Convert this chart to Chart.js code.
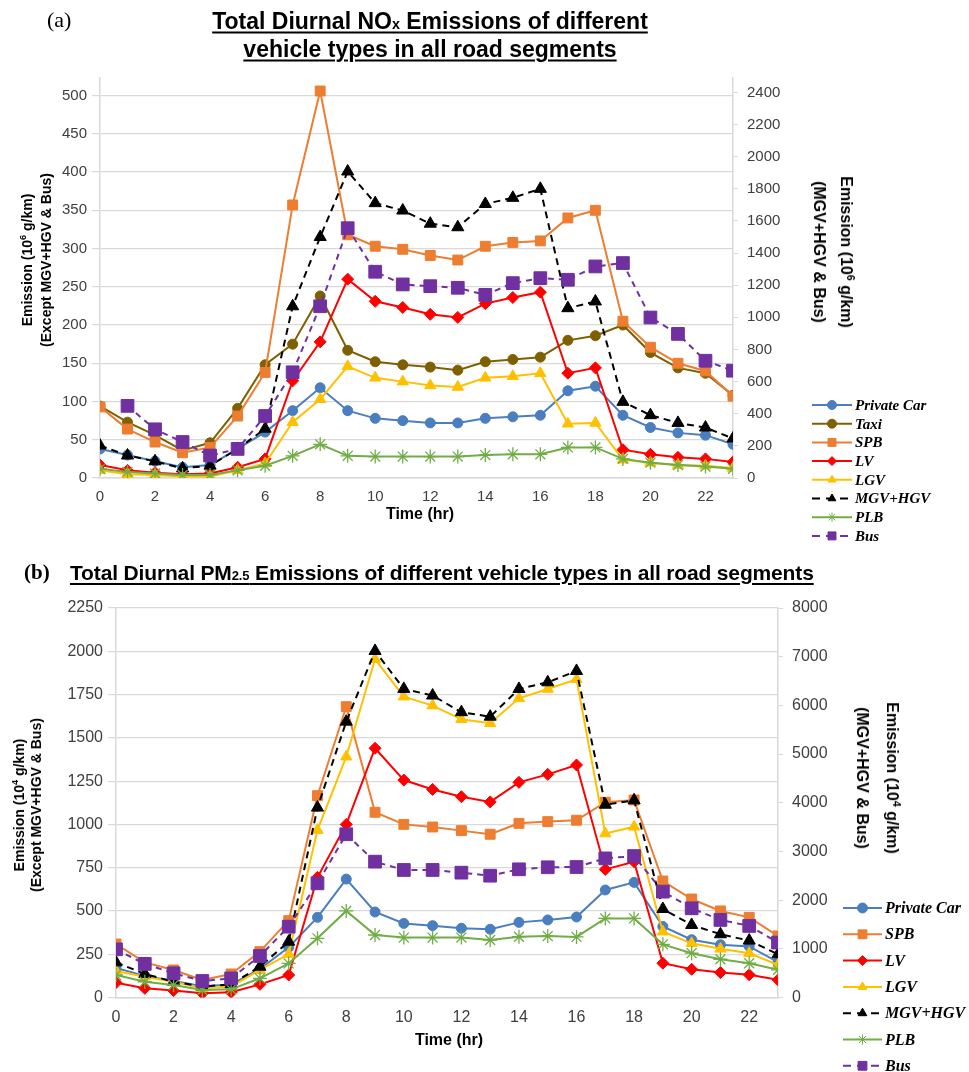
<!DOCTYPE html>
<html>
<head>
<meta charset="utf-8">
<script src="https://cdn.jsdelivr.net/npm/chart.js@4.4.1/dist/chart.umd.min.js"></script>
<style>
  html, body { margin:0; padding:0; background:#fff; }
  body { width:969px; height:1072px; overflow:hidden; position:relative; font-family:"Liberation Sans", Arial, sans-serif; color:#000; }
  canvas { position:absolute; left:0; }
  .t { position:absolute; white-space:nowrap; }
  .c { transform:translate(-50%,-50%); text-align:center; }
  .rl { transform:translate(-50%,-50%) rotate(-90deg); text-align:center; font-weight:bold; }
  .rr { transform:translate(-50%,-50%) rotate(90deg); text-align:center; font-weight:bold; }
  .ttl { font-weight:bold; text-decoration:underline; text-decoration-thickness:2px; text-underline-offset:3px; }
  sup { font-size:65%; line-height:0; vertical-align:super; }
  .sub { font-size:62%; }
</style>
</head>
<body>
<canvas id="c1" width="969" height="550" style="top:0"></canvas>
<canvas id="c2" width="969" height="522" style="top:550px"></canvas>

<!-- Panel (a) texts -->
<div class="t" style="left:47px;top:7px;font:22px 'Liberation Serif',serif;">(a)</div>
<div class="t c ttl" style="left:430px;top:35px;font-size:23px;line-height:25px;">Total Diurnal NO<span class="sub">x</span> Emissions of different<br>vehicle types in all road segments</div>
<div class="t rl" style="left:37px;top:260px;font-size:14px;line-height:19px;">Emission (10<sup>6</sup> g/km)<br>(Except MGV+HGV &amp; Bus)</div>
<div class="t rr" style="left:833px;top:252px;font-size:16px;line-height:27px;">Emission (10<sup>6</sup> g/km)<br>(MGV+HGV &amp; Bus)</div>
<div class="t c" style="left:420px;top:514px;font-size:16px;font-weight:bold;">Time (hr)</div>

<!-- Panel (b) texts -->
<div class="t" style="left:24px;top:560px;font:bold 21px 'Liberation Serif',serif;">(b)</div>
<div class="t ttl" style="left:70px;top:560px;font-size:21px;line-height:25px;letter-spacing:-0.15px;">Total Diurnal PM<span class="sub">2.5</span> Emissions of different vehicle types in all road segments</div>
<div class="t rl" style="left:28px;top:805px;font-size:14px;line-height:17px;">Emission (10<sup>4</sup> g/km)<br>(Except MGV+HGV &amp; Bus)</div>
<div class="t rr" style="left:877px;top:778px;font-size:16px;line-height:30px;">Emission (10<sup>4</sup> g/km)<br>(MGV+HGV &amp; Bus)</div>
<div class="t c" style="left:449px;top:1040px;font-size:16px;font-weight:bold;">Time (hr)</div>

<script>
// ---------------- DATA ----------------
const hours = [0,1,2,3,4,5,6,7,8,9,10,11,12,13,14,15,16,17,18,19,20,21,22,23];
const xTickValues = [0,2,4,6,8,10,12,14,16,18,20,22];

// Panel (a): NOx (10^6 g/km)
const noxLeftTicks  = [0,50,100,150,200,250,300,350,400,450,500];
const noxRightTicks = [0,200,400,600,800,1000,1200,1400,1600,1800,2000,2200,2400];
const noxPrivateCar = [38,30,22,14,17,38,60,88,118,88,78,75,72,72,78,80,82,114,120,82,66,59,56,44];
const noxTaxi       = [94,73,56,36,46,91,148,175,238,167,152,148,145,141,152,155,158,180,186,200,164,144,137,108];
const noxSPB        = [93,64,47,33,40,81,138,357,506,318,303,299,291,285,303,308,310,340,350,205,171,150,140,107];
const noxLV         = [17,10,7,5,6,14,25,127,178,260,231,223,214,210,228,236,243,137,144,37,31,27,25,21];
const noxLGV        = [10,5,4,2,2,10,19,73,103,146,131,126,121,119,131,133,137,71,72,24,20,17,16,13];
const noxMGVHGV     = [202,140,104,60,77,181,307,1069,1500,1908,1711,1665,1583,1561,1706,1744,1800,1057,1099,474,391,343,314,246];
const noxPLB        = [12,8,6,4,4,10,16,29,44,29,28,28,28,28,30,31,31,40,40,25,20,17,15,12];
const noxBus        = [null,449,303,224,140,181,386,658,1069,1555,1284,1205,1194,1184,1140,1213,1244,1234,1317,1338,999,897,730,668];

// Panel (b): PM2.5 (10^4 g/km)
const pmLeftTicks  = [0,250,500,750,1000,1250,1500,1750,2000,2250];
const pmRightTicks = [0,1000,2000,3000,4000,5000,6000,7000,8000];
const pmPrivateCar = [170,125,95,65,75,165,290,463,684,494,428,415,400,394,434,448,465,621,665,410,334,305,295,205];
const pmSPB        = [309,203,159,101,136,265,444,1166,1680,1070,1000,985,964,943,1006,1016,1024,1128,1141,673,569,500,463,356];
const pmLV         = [86,53,40,24,30,76,130,694,1000,1440,1256,1202,1160,1130,1243,1289,1343,740,784,198,163,144,131,102];
const pmLGV        = [153,120,91,53,63,159,251,967,1391,1955,1738,1686,1607,1584,1728,1782,1838,947,986,380,313,281,256,188];
const pmMGVHGV     = [722,484,325,223,271,633,1147,3900,5666,7118,6338,6202,5860,5768,6337,6474,6707,3960,4050,1818,1490,1299,1169,889];
const pmPLB        = [130,91,72,43,47,111,197,342,500,361,346,346,346,332,351,355,350,457,457,307,256,221,198,160];
const pmBus        = [990,689,497,339,393,853,1455,2345,3353,2790,2619,2619,2564,2502,2633,2675,2680,2857,2905,2174,1832,1593,1470,1128];

// ---------------- STYLES ----------------
const styles = {
  'Private Car': { color:'#4a7ebf', point:'circle',   r:5,   dash:[] },
  'Taxi':        { color:'#7f6000', point:'circle',   r:5,   dash:[] },
  'SPB':         { color:'#ed7d31', point:'rect',     r:7,   dash:[] },
  'LV':          { color:'#ff0000', point:'rectRot',  r:6,   dash:[] },
  'LGV':         { color:'#ffc000', point:'triangle', r:6.5, dash:[] },
  'MGV+HGV':     { color:'#000000', point:'triangle', r:7,   dash:[7,5] },
  'PLB':         { color:'#70ad47', point:'star',     r:7,   dash:[] },
  'Bus':         { color:'#7030a0', point:'rect',     r:9,   dash:[6,5] }
};

function makeDataset(label, values, axis, idx, total) {
  const s = styles[label];
  return {
    label: label,
    data: values.map((v, i) => ({ x: hours[i], y: v })),
    yAxisID: axis,
    borderColor: s.color,
    backgroundColor: s.color,
    pointBackgroundColor: s.color,
    pointBorderColor: s.color,
    pointStyle: s.point,
    pointRadius: s.r,
    pointBorderWidth: s.point === 'star' ? 1.3 : 1,
    borderWidth: 2,
    borderDash: s.dash,
    tension: 0,
    spanGaps: false,
    order: total - idx
  };
}

const sideLegend = {
  id: 'sideLegend',
  afterDraw(chart, args, o) {
    const ctx = chart.ctx;
    ctx.save();
    chart.data.datasets.forEach((ds, i) => {
      const y = o.y + i * o.step;
      ctx.lineWidth = 2;
      ctx.strokeStyle = ds.borderColor;
      ctx.setLineDash(ds.borderDash && ds.borderDash.length ? o.dash : []);
      ctx.beginPath();
      ctx.moveTo(o.x, y);
      ctx.lineTo(o.x + o.len, y);
      ctx.stroke();
      ctx.setLineDash([]);
      ctx.fillStyle = ds.pointBackgroundColor;
      ctx.strokeStyle = ds.pointBorderColor;
      ctx.lineWidth = 1;
      const mr = ds.pointStyle === 'rect' ? o.r * 1.25 : o.r;
      if (Chart.helpers && Chart.helpers.drawPoint) {
        Chart.helpers.drawPoint(ctx, { pointStyle: ds.pointStyle, radius: mr, rotation: 0, borderWidth: 1 }, o.x + o.len / 2, y);
      } else {
        ctx.beginPath(); ctx.arc(o.x + o.len / 2, y, mr, 0, Math.PI * 2); ctx.fill();
      }
      ctx.fillStyle = '#000';
      ctx.font = o.font;
      ctx.textBaseline = 'middle';
      ctx.textAlign = 'left';
      ctx.fillText(ds.label, o.x + o.len + 3, y + 1);
    });
    ctx.restore();
  }
};

function ticksFrom(arr) { return scale => { scale.ticks = arr.map(v => ({ value: v })); }; }
const plain = v => String(v);

function buildChart(canvasId, datasets, cfg) {
  return new Chart(document.getElementById(canvasId), {
    type: 'line',
    data: { datasets: datasets },
    plugins: [sideLegend],
    options: {
      responsive: false,
      animation: false,
      events: [],
      layout: { padding: cfg.padding },
      plugins: {
        legend: { display: false },
        title: { display: false },
        tooltip: { enabled: false },
        sideLegend: cfg.legend
      },
      scales: {
        x: {
          type: 'linear', min: 0, max: 23,
          afterBuildTicks: ticksFrom(xTickValues),
          ticks: { color: '#404040', font: { family: 'Liberation Sans', size: cfg.fontSize }, padding: 10, maxRotation: 0, autoSkip: false, callback: plain },
          grid: { display: true, drawOnChartArea: false, drawTicks: false },
          border: { display: true, color: '#d9d9d9', width: 1.5 },
          afterFit: s => { s.height = 30; }
        },
        y: {
          position: 'left', min: 0, max: cfg.leftMax,
          afterBuildTicks: ticksFrom(cfg.leftTicks),
          ticks: { color: '#404040', font: { family: 'Liberation Sans', size: cfg.fontSize }, padding: 5, callback: plain },
          grid: { color: '#d9d9d9', lineWidth: 1.2, tickLength: 8 },
          border: { display: true, color: '#d9d9d9', width: 1.5 },
          afterFit: s => { s.width = cfg.leftWidth; }
        },
        y1: {
          position: 'right', min: 0, max: cfg.rightMax,
          afterBuildTicks: ticksFrom(cfg.rightTicks),
          ticks: { color: '#404040', font: { family: 'Liberation Sans', size: cfg.fontSize }, padding: 9, callback: plain },
          grid: { drawOnChartArea: false, color: '#d9d9d9', tickLength: 5 },
          border: { display: true, color: '#d9d9d9', width: 1.5 },
          afterFit: s => { s.width = 60; }
        }
      }
    }
  });
}

// Panel (a)
const setA = [
  ['Private Car', noxPrivateCar, 'y'],
  ['Taxi', noxTaxi, 'y'],
  ['SPB', noxSPB, 'y'],
  ['LV', noxLV, 'y'],
  ['LGV', noxLGV, 'y'],
  ['MGV+HGV', noxMGVHGV, 'y1'],
  ['PLB', noxPLB, 'y'],
  ['Bus', noxBus, 'y1']
];
buildChart('c1', setA.map((d, i) => makeDataset(d[0], d[1], d[2], i, setA.length)), {
  padding: { top: 78, bottom: 42, left: 0, right: 176 },
  leftMax: 523, rightMax: 2490,
  leftTicks: noxLeftTicks, rightTicks: noxRightTicks,
  leftWidth: 100, fontSize: 15,
  legend: { x: 812, y: 405, step: 18.7, len: 40, r: 4.5, dash: [8, 6], font: 'italic bold 15px "Liberation Serif"' }
});

// Panel (b)
const setB = [
  ['Private Car', pmPrivateCar, 'y'],
  ['SPB', pmSPB, 'y'],
  ['LV', pmLV, 'y'],
  ['LGV', pmLGV, 'y'],
  ['MGV+HGV', pmMGVHGV, 'y1'],
  ['PLB', pmPLB, 'y'],
  ['Bus', pmBus, 'y1']
];
buildChart('c2', setB.map((d, i) => makeDataset(d[0], d[1], d[2], i, setB.length)), {
  padding: { top: 58, bottom: 44.5, left: 0, right: 131 },
  leftMax: 2250, rightMax: 8000,
  leftTicks: pmLeftTicks, rightTicks: pmRightTicks,
  leftWidth: 116, fontSize: 16,
  legend: { x: 843, y: 358, step: 26.3, len: 39, r: 5, dash: [8, 6], font: 'italic bold 16px "Liberation Serif"' }
});
</script>
</body>
</html>
